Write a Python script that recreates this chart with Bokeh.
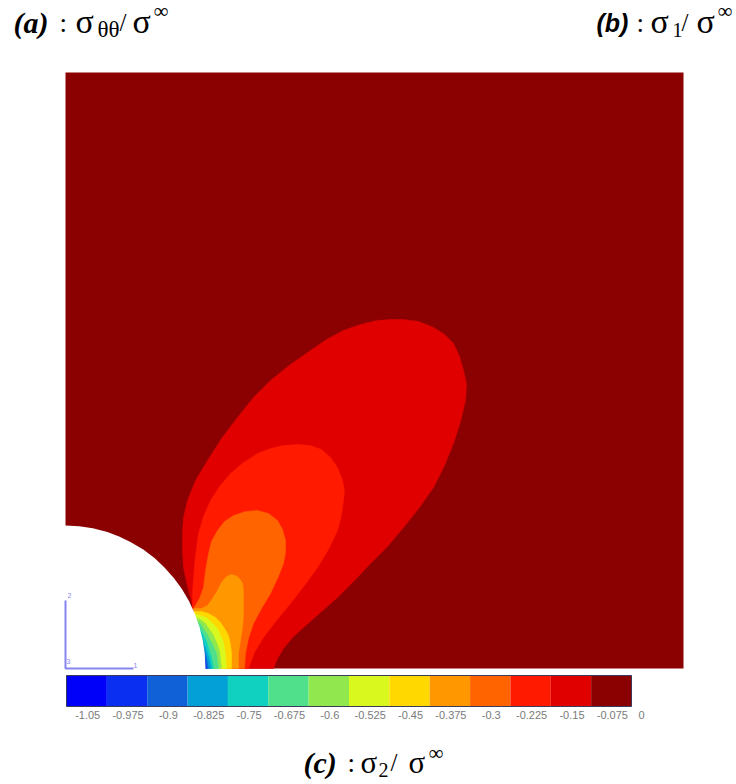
from bokeh.plotting import figure
from bokeh.models import Range1d
from bokeh.core.properties import value
from bokeh.embed import file_html
from bokeh.resources import INLINE

# Colour-bar values (contour levels) and colours
levels = [-1.05, -0.975, -0.9, -0.825, -0.75, -0.675, -0.6, -0.525, -0.45, -0.375, -0.3, -0.225, -0.15, -0.075]
level_labels = ["-1.05", "-0.975", "-0.9", "-0.825", "-0.75", "-0.675", "-0.6", "-0.525", "-0.45", "-0.375", "-0.3", "-0.225", "-0.15", "-0.075", "0"]
level_colors = ["#0000fa", "#0a2ff0", "#1060d8", "#02a0d6", "#10d0bf", "#50e08c", "#90e84e", "#d8f81e", "#ffd800", "#ff9800", "#ff6400", "#ff1a00", "#e00000", "#8b0000"]

# Contour outlines (picture coordinates)
lobe_0225_x = [273, 277, 283, 292, 303, 320, 337, 354, 370, 387, 403, 419, 433, 444, 453, 460, 465, 466, 463, 459, 453, 444, 433, 418, 403, 390, 377, 360, 343, 326, 310, 290, 270, 253, 237, 221, 207, 195, 187, 183, 182, 182, 183, 187, 192, 203]
lobe_0225_y = [668, 658, 648, 637, 627, 612, 597, 580, 563, 546, 527, 507, 487, 465, 443, 421, 400, 384, 370, 356, 343, 334, 327, 321, 319, 319, 320, 324, 330, 339, 350, 364, 380, 397, 417, 438, 460, 480, 500, 517, 533, 550, 567, 586, 605, 668]
lobe_03_x = [192, 192, 193, 195, 198, 203, 210, 219, 230, 243, 257, 270, 283, 297, 310, 321, 330, 337, 342, 344, 343, 341, 337, 328, 317, 304, 290, 276, 263, 254, 248, 203]
lobe_03_y = [607, 592, 577, 555, 533, 516, 500, 486, 473, 462, 453, 448, 445, 444, 445, 449, 457, 467, 480, 490, 500, 515, 530, 549, 567, 585, 603, 620, 637, 652, 668, 668]
lobe_0375_x = [193, 199, 203, 205, 208, 211, 217, 224, 233, 245, 257, 268, 277, 282, 285, 285, 283, 277, 270, 261, 253, 248, 245, 244, 203]
lobe_0375_y = [608, 598, 587, 570, 553, 541, 530, 521, 515, 511, 510, 513, 520, 529, 540, 552, 563, 578, 593, 608, 623, 638, 653, 668, 668]
lobe_045_x = [193, 201, 207, 212, 217, 221, 225, 230, 235, 239, 242, 243, 243, 243, 242, 240, 238, 238, 203]
lobe_045_y = [608, 608, 605, 598, 590, 582, 577, 574, 575, 578, 583, 591, 600, 614, 627, 640, 653, 668, 668]
lobe_0525_x = [193, 201, 208, 215, 220, 224, 228, 230, 231, 231, 203]
lobe_0525_y = [611, 611, 613, 617, 622, 628, 635, 644, 653, 668, 668]
lobe_06_x = [194, 200, 207, 212, 217, 220, 223, 225, 226, 203]
lobe_06_y = [613, 615, 618, 623, 628, 635, 642, 654, 668, 668]
lobe_0675_x = [195, 200, 205, 209, 213, 216, 219, 221, 203]
lobe_0675_y = [617, 619, 623, 629, 635, 642, 650, 668, 668]
lobe_075_x = [196, 200, 203, 207, 210, 213, 216, 218, 203]
lobe_075_y = [620, 623, 628, 634, 640, 646, 653, 668, 668]
lobe_0825_x = [197, 200, 203, 206, 208, 211, 213, 203]
lobe_0825_y = [625, 629, 635, 641, 647, 657, 668, 668]
lobe_09_x = [198, 201, 203, 205, 207, 209, 211, 203]
lobe_09_y = [630, 635, 642, 647, 653, 660, 668, 668]
lobe_0975_x = [199, 201, 203, 206, 208, 203]
lobe_0975_y = [637, 642, 648, 658, 668, 668]
lobe_105_x = [201, 204, 206, 203]
lobe_105_y = [645, 657, 668, 668]

contours = [
    (lobe_0225_x, lobe_0225_y, "#e00000"), (lobe_03_x, lobe_03_y, "#ff1a00"),
    (lobe_0375_x, lobe_0375_y, "#ff6400"), (lobe_045_x, lobe_045_y, "#ff9800"),
    (lobe_0525_x, lobe_0525_y, "#ffd800"), (lobe_06_x, lobe_06_y, "#d8f81e"),
    (lobe_0675_x, lobe_0675_y, "#90e84e"), (lobe_075_x, lobe_075_y, "#50e08c"),
    (lobe_0825_x, lobe_0825_y, "#10d0bf"), (lobe_09_x, lobe_09_y, "#02a0d6"),
    (lobe_0975_x, lobe_0975_y, "#1060d8"), (lobe_105_x, lobe_105_y, "#0a2ff0"),
]

p = figure(width=736, height=784, output_backend="svg", toolbar_location=None,
           x_range=Range1d(0, 736), y_range=Range1d(784, 0),
           min_border=0, outline_line_color=None, background_fill_color="white",
           border_fill_color="white")
p.axis.visible = False
p.grid.visible = False

# Domain
p.quad(left=[65], right=[683], top=[72], bottom=[668], fill_color="#8b0000", line_color=None)

for xs, ys, c in contours:
    p.patch(xs, ys, fill_color=c, line_color=c, line_width=0.5)

# Hole
p.ellipse(x=[65], y=[668], width=[280], height=[286], fill_color="white", line_color=None)
# Clean the strip below the domain
p.quad(left=[0], right=[736], top=[669], bottom=[675], fill_color="white", line_color=None)

# Triad
tri = "#8585f0"
p.line([65, 65, 133], [600, 668, 668], line_color=tri, line_width=2)
p.text([69, 68, 135], [595, 661, 665], text=["2", "3", "1"], text_font=value("Liberation Sans"),
       text_font_size="7px", text_color=tri, text_align="center", text_baseline="middle")

# Colour bar on its own value scale
bar_px_per_unit = 565 / 1.05
bar_low = -1.0875
p.extra_x_ranges["bar"] = Range1d(bar_low + (0 - 66) / bar_px_per_unit, bar_low + (736 - 66) / bar_px_per_unit)
half = 0.0375
p.quad(left=[v - half for v in levels], right=[v + half for v in levels], top=[675] * 14, bottom=[706] * 14,
       fill_color=level_colors, line_color=None, x_range_name="bar")
p.quad(left=[levels[0] - half], right=[levels[-1] + half], top=[675], bottom=[706], fill_color=None,
       line_color="#3a3a5a", line_width=1, x_range_name="bar")
p.text(levels + [0.0], [714] * 15, text=level_labels, x_offset=[1] * 14 + [-10], text_font=value("Liberation Sans"),
       text_font_size="11px", text_color="#7a7a7a", text_align="center", text_baseline="middle", x_range_name="bar")

# Captions: (x, baseline, text, font, style, size)
captions = [
    (13, 22, "(a)", "Liberation Serif", "bold italic", 30),
    (59, 22, ":", "Liberation Serif", "normal", 27),
    (75, 21, "σ", "Liberation Serif", "normal", 34),
    (97, 29, "θθ", "Liberation Serif", "normal", 23),
    (119, 22, "/", "Liberation Serif", "normal", 25),
    (132, 21, "σ", "Liberation Serif", "normal", 34),
    (153, 10, "∞", "Liberation Serif", "normal", 21),
    (596, 22, "(b)", "Liberation Sans", "bold italic", 25),
    (636, 22, ":", "Liberation Serif", "normal", 27),
    (650, 21, "σ", "Liberation Serif", "normal", 34),
    (672, 29, "1", "Liberation Serif", "normal", 20),
    (681, 22, "/", "Liberation Serif", "normal", 25),
    (696, 21, "σ", "Liberation Serif", "normal", 34),
    (717, 10, "∞", "Liberation Serif", "normal", 21),
    (303, 762, "(c)", "Liberation Serif", "bold italic", 30),
    (347, 762, ":", "Liberation Serif", "normal", 27),
    (360, 762, "σ", "Liberation Serif", "normal", 31),
    (378, 769, "2", "Liberation Serif", "normal", 20),
    (390, 762, "/", "Liberation Serif", "normal", 25),
    (408, 762, "σ", "Liberation Serif", "normal", 31),
    (428, 752, "∞", "Liberation Serif", "normal", 21),
]
for x, y, t, f, s, sz in captions:
    p.text([x], [y], text=[t], text_font=value(f), text_font_style=s, text_font_size=f"{sz}px",
           text_color="black", text_align="left", text_baseline="alphabetic")

open("out.html", "w").write(file_html(p, INLINE))
